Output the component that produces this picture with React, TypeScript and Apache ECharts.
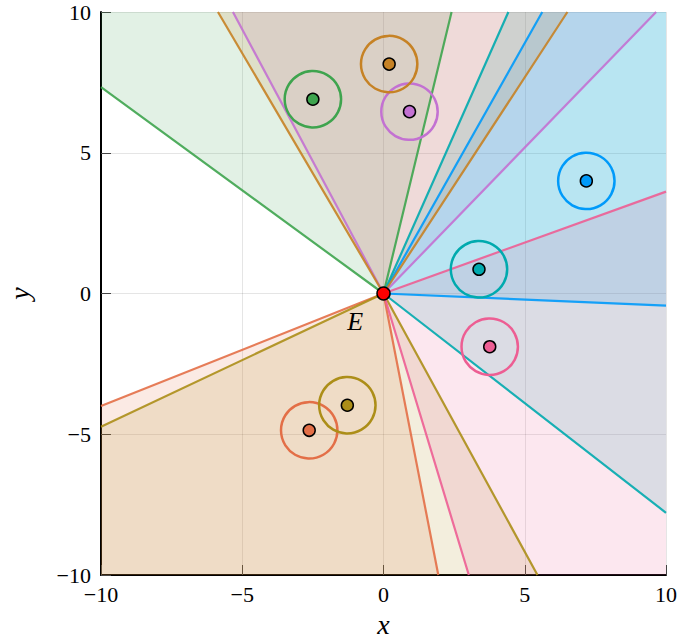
import React, { useEffect, useRef } from "react";
import * as echarts from "echarts";

// Obstacles (centres), in palette order
const obstacleX = [7.18, -2.63, -2.5, 0.92, -1.28, 3.38, 3.76, 0.2];
const obstacleY = [4.0, -4.86, 6.9, 6.46, -3.97, 0.86, -1.89, 8.15];
const obstacleRadius = 1;
// Cone edges where they meet the plot border (clockwise-most edge = start, ccw-most = end)
const edgeStartX = [10, -10, 2.41, 9.65, -10, 10, 3.02, 6.51];
const edgeStartY = [-0.43, -4.0, 10, 10, -4.73, -7.79, -10, 10];
const edgeEndX = [5.62, 1.94, -10, -5.33, 5.45, 4.42, 10, -5.86];
const edgeEndY = [10, -10, 7.33, 10, -10, 10, 3.62, 10];
const palette = ["#009AFA", "#E36F47", "#3EA44E", "#C371D2", "#AC8E18", "#00AAAE", "#ED5E93", "#C68225"];
const agentPoint = [0, 0];
const agentLabel = "E";
const agentLabelPos = [-1, -1];
const tickValues = [-10, -5, 0, 5, 10];
const axisMin = -10;
const axisMax = 10;
const boxCorners = [
  [axisMax, axisMax],
  [axisMin, axisMax],
  [axisMin, axisMin],
  [axisMax, axisMin],
];

function rgba(hex: string, a: number) {
  const n = parseInt(hex.slice(1), 16);
  return `rgba(${(n >> 16) & 255},${(n >> 8) & 255},${n & 255},${a})`;
}
function ang(x: number, y: number) {
  return ((Math.atan2(y, x) * 180) / Math.PI + 360) % 360;
}
function wedge(i: number) {
  const a1 = ang(edgeStartX[i], edgeStartY[i]);
  const a2 = ang(edgeEndX[i], edgeEndY[i]);
  const span = (a2 - a1 + 360) % 360;
  const corners = boxCorners
    .map((c) => ({ c, d: (ang(c[0], c[1]) - a1 + 360) % 360 }))
    .filter((o) => o.d > 0 && o.d < span)
    .sort((p, q) => p.d - q.d)
    .map((o) => o.c);
  return [agentPoint, [edgeStartX[i], edgeStartY[i]], ...corners, [edgeEndX[i], edgeEndY[i]]];
}

const fmt = (v: number) => (v < 0 ? "\u2212" + Math.abs(v) : String(v));
const SERIF = "'Liberation Serif', 'DejaVu Serif', serif";

export default function App() {
  const ref = useRef<HTMLDivElement>(null);
  useEffect(() => {
    document.body.style.margin = "0";
    const chart = echarts.init(ref.current!, null, { renderer: "svg" });
    const centers = obstacleX.map((x, i) => [x, obstacleY[i]]);

    const series: any[] = [];
    series.push({
      type: "custom",
      clip: true,
      z: 2,
      data: centers,
      renderItem: (params: any, api: any) => {
        const i = params.dataIndex;
        const pts = wedge(i).map((p) => api.coord(p));
        return {
          type: "polygon",
          shape: { points: pts },
          style: { fill: rgba(palette[i], 0.15), stroke: "none" },
        };
      },
      silent: true,
    });
    obstacleX.forEach((_, i) => {
      series.push({
        type: "line",
        z: 3,
        data: [
          [edgeStartX[i], edgeStartY[i]],
          agentPoint,
          [edgeEndX[i], edgeEndY[i]],
        ],
        showSymbol: false,
        symbol: "none",
        lineStyle: { color: palette[i], width: 2.2, opacity: 0.9 },
        silent: true,
      });
    });
    series.push({
      type: "custom",
      clip: true,
      z: 4,
      data: centers,
      renderItem: (params: any, api: any) => {
        const i = params.dataIndex;
        const c = api.coord([api.value(0), api.value(1)]);
        const s = api.size([obstacleRadius, obstacleRadius]);
        return {
          type: "circle",
          shape: { cx: c[0], cy: c[1], r: (s[0] + s[1]) / 2 },
          style: { fill: "none", stroke: palette[i], lineWidth: 2.5 },
        };
      },
      silent: true,
    });
    series.push({
      type: "scatter",
      z: 5,
      symbolSize: 12,
      data: centers.map((c, i) => ({
        value: c,
        itemStyle: { color: palette[i], borderColor: "#000", borderWidth: 1.5, opacity: 1 },
      })),
      silent: true,
    });
    series.push({
      type: "scatter",
      z: 6,
      symbolSize: 13,
      data: [agentPoint],
      itemStyle: { color: "#FF0000", borderColor: "#000", borderWidth: 1.5, opacity: 1 },
      silent: true,
    });
    series.push({
      type: "scatter",
      z: 6,
      symbolSize: 1,
      data: [agentLabelPos],
      itemStyle: { color: "rgba(0,0,0,0)" },
      label: {
        show: true,
        position: "inside",
        formatter: agentLabel,
        fontFamily: SERIF,
        fontStyle: "italic",
        fontSize: 26,
        color: "#000",
        opacity: 1,
      },
      silent: true,
    });

    const axisCommon = {
      type: "value",
      min: axisMin,
      max: axisMax,
      interval: 5,
      axisLine: { show: true, onZero: false, lineStyle: { color: "#000", width: 2 } },
      axisTick: { show: true, inside: true, length: 10, lineStyle: { color: "#444", width: 1 } },
      splitLine: { show: true, lineStyle: { color: "rgba(0,0,0,0.1)", width: 1 } },
      nameTextStyle: { fontFamily: SERIF, fontStyle: "italic", fontSize: 28, color: "#000" },
      nameLocation: "middle",
    };

    chart.setOption({
      animation: false,
      grid: {
        left: 101,
        right: 11,
        top: 12,
        bottom: 66,
        containLabel: false,
        outerBoundsMode: "none",
      },
      xAxis: {
        ...axisCommon,
        name: "x",
        nameGap: 35,
        axisLabel: { fontFamily: SERIF, fontSize: 22, color: "#000", margin: 8, formatter: fmt },
      },
      yAxis: {
        ...axisCommon,
        name: "y",
        nameGap: 68,
        axisLabel: { fontFamily: SERIF, fontSize: 22, color: "#000", margin: 10, formatter: fmt },
      },
      series,
    });
    void tickValues;
    return () => chart.dispose();
  }, []);
  return <div ref={ref} style={{ width: 677, height: 641 }} />;
}
